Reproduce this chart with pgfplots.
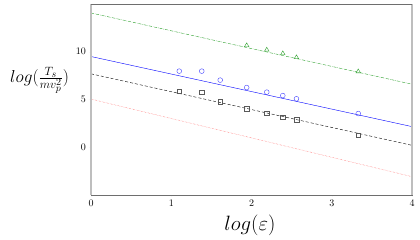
\documentclass[border=0pt]{standalone}
\usepackage{pgfplots}
\pgfplotsset{compat=1.18}
\definecolor{mgreen}{RGB}{44,160,44}
\definecolor{spinelight}{RGB}{190,190,190}
\definecolor{spinedark}{RGB}{110,110,110}
\begin{document}
\begin{tikzpicture}
\begin{axis}[
  scale only axis,
  width=321pt, height=191pt,
  xmin=0, xmax=4, ymin=-5, ymax=15,
  xtick={0,1,2,3,4}, ytick={0,5,10},
  axis line style={draw=none},
  tick align=outside, major tick length=1.5pt,
  tick style={spinedark, thin},
  xtick pos=bottom, ytick pos=left,
  xlabel={\huge $log(\varepsilon)$},
  ylabel={\LARGE $log(\frac{T_s}{mv_p^2})$},
  xlabel style={at={(axis description cs:0.495,-0.085)}, anchor=north},
  ylabel style={rotate=-90, at={(axis description cs:-0.16,0.60)}, anchor=center},
  clip=false,
]
\addplot[mgreen, densely dashdotted, thin] coordinates {(0,14.06) (4,6.6)};
\addplot[blue, thin] coordinates {(0,9.5) (4,2.16)};
\addplot[black, densely dashed, thin] coordinates {(0,7.69) (4,0.2)};
\addplot[red!70, densely dotted, thin] coordinates {(0,5.04) (4,-3.08)};
\addplot[only marks, mark=triangle, mark size=2.6pt, mgreen] coordinates {
(1.94,10.66) (2.19,10.2) (2.39,9.82) (2.56,9.4) (3.33,7.93)};
\addplot[only marks, mark=o, mark size=2.4pt, blue!75] coordinates {
(1.10,7.97) (1.38,7.97) (1.61,7.03) (1.94,6.25) (2.19,5.77) (2.39,5.41) (2.56,5.07) (3.33,3.53)};
\addplot[only marks, mark=square, mark size=2.3pt, black!65] coordinates {
(1.10,5.88) (1.38,5.77) (1.61,4.79) (1.94,4.05) (2.19,3.57) (2.39,3.15) (2.56,2.86) (3.33,1.26)};
\draw[spinelight, line width=1.2pt] (rel axis cs:0,0) -- (rel axis cs:0,1);
\draw[spinelight, line width=1.2pt] (rel axis cs:1,0) -- (rel axis cs:1,1);
\draw[spinedark, line width=0.7pt] (rel axis cs:0,0) -- (rel axis cs:1,0);
\draw[spinedark, line width=0.7pt] (rel axis cs:0,1) -- (rel axis cs:1,1);
\path (rel axis cs:-0.2835,-0.2356) (rel axis cs:1.0249,1.0209);
\end{axis}
\end{tikzpicture}
\end{document}
